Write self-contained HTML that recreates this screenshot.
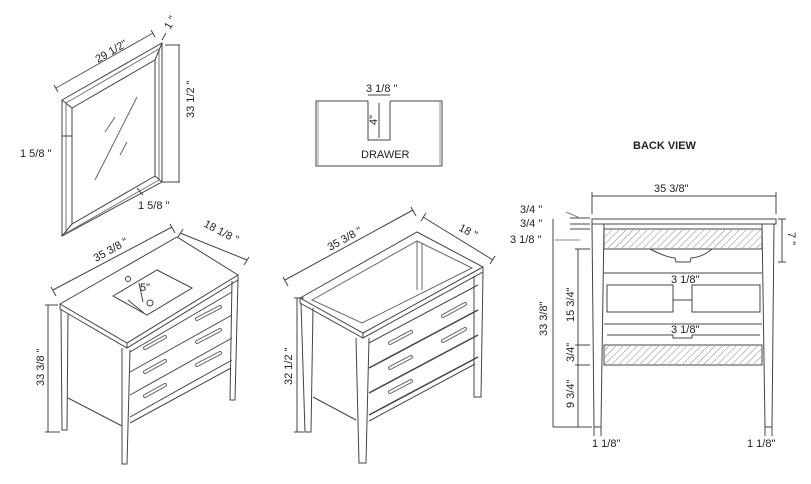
<!DOCTYPE html>
<html><head><meta charset="utf-8"><style>
html,body{margin:0;padding:0;background:#fff;}
svg{display:block;}
text{font-family:"Liberation Sans",sans-serif;fill:#222;font-size:11px;}
</style></head><body>
<svg width="811" height="484" viewBox="0 0 811 484" xmlns="http://www.w3.org/2000/svg">
<g fill="none" stroke="#444" stroke-width="1">
<!-- Mirror -->
<polygon points="62,100 162,43 162,182 62,236"/>
<polygon points="66,103 159,49 159,180 66,233" stroke="#777"/>
<polygon points="72,108 155,60 155,176 72,224"/>
<line x1="62" y1="100" x2="72" y2="108"/><line x1="162" y1="43" x2="155" y2="60"/>
<line x1="162" y1="182" x2="155" y2="176"/><line x1="62" y1="236" x2="72" y2="224"/>
<line x1="95" y1="180" x2="137" y2="97" stroke="#666"/>
<line x1="105" y1="132" x2="115" y2="117" stroke="#666"/>
<line x1="120" y1="155" x2="127" y2="142" stroke="#666"/>
<line x1="56" y1="88" x2="153" y2="33" stroke="#555"/>
<line x1="54" y1="85" x2="58" y2="92"/><line x1="151" y1="30" x2="155" y2="37"/>
<line x1="165" y1="45" x2="180" y2="45"/><line x1="162" y1="182" x2="180" y2="182"/>
<line x1="179" y1="45" x2="179" y2="182"/>
<line x1="162" y1="40" x2="166" y2="33"/>
<line x1="62" y1="136" x2="72" y2="136"/>
<line x1="137" y1="188" x2="143" y2="195"/>
<!-- Drawer -->
<polyline points="368,101 316,101 316,166 442,166 442,101 390,101"/>
<polyline points="368,101 368,140 390,140 390,101"/>
<line x1="368" y1="95" x2="390" y2="95"/><line x1="379" y1="103" x2="379" y2="138"/>
<line x1="318" y1="101" x2="318" y2="166" stroke="#999"/><line x1="440" y1="101" x2="440" y2="166" stroke="#999"/>

<!-- Left vanity -->
<polygon points="60,304 177,237 238,275 127,343"/>
<polyline points="60,304 60,309 127,348 238,280 238,275"/>
<line x1="127" y1="343" x2="127" y2="348"/>
<polygon points="113,296 157,270 192,288 147,315"/>
<path d="M128,300 Q140,310 144,313" />
<circle cx="128" cy="279" r="2.5"/><circle cx="150" cy="303" r="3"/>
<line x1="139" y1="283" x2="143" y2="302"/>
<polyline points="61,309 62,430 67,430 68,314"/>
<polyline points="122,348 122,464 127,464 130,350"/>
<polyline points="232,281 230,400 235,400 238,279"/>
<line x1="68" y1="398" x2="122" y2="426"/>
<line x1="130" y1="423" x2="231" y2="368"/>
<line x1="130" y1="352" x2="232" y2="292"/>
<line x1="130" y1="372" x2="232" y2="315"/>
<line x1="130" y1="395" x2="232" y2="338"/>
<line x1="130" y1="417" x2="232" y2="360"/>
<g stroke-width="4" stroke="#666" stroke-linecap="round">
<line x1="145" y1="348" x2="165" y2="337"/><line x1="197" y1="319" x2="220" y2="307"/>
<line x1="145" y1="372" x2="165" y2="361"/><line x1="197" y1="342" x2="220" y2="330"/>
<line x1="145" y1="396" x2="165" y2="385"/><line x1="197" y1="365" x2="220" y2="353"/>
</g>
<g stroke-width="2" stroke="#fff" stroke-linecap="round">
<line x1="145" y1="348" x2="165" y2="337"/><line x1="197" y1="319" x2="220" y2="307"/>
<line x1="145" y1="372" x2="165" y2="361"/><line x1="197" y1="342" x2="220" y2="330"/>
<line x1="145" y1="396" x2="165" y2="385"/><line x1="197" y1="365" x2="220" y2="353"/>
</g>
<line x1="53" y1="290" x2="172" y2="227"/><line x1="51" y1="287" x2="56" y2="296"/><line x1="170" y1="224" x2="175" y2="233"/>
<line x1="180" y1="233" x2="247" y2="260"/><line x1="178" y1="237" x2="183" y2="229"/><line x1="244" y1="265" x2="249" y2="257"/>
<line x1="48" y1="305" x2="48" y2="432"/><line x1="45" y1="305" x2="58" y2="305"/><line x1="45" y1="432" x2="60" y2="432"/>

<!-- Middle vanity -->
<polygon points="300,298 417,232 483,267 363,333"/>
<polygon points="312,300 417,241 472,268 362,323" stroke="#666"/>
<polyline points="300,298 300,303 363,338 483,272 483,267"/>
<line x1="363" y1="333" x2="363" y2="338"/>
<line x1="417" y1="241" x2="417" y2="290" stroke="#666"/>
<line x1="422" y1="243" x2="422" y2="290" stroke="#666"/>
<polyline points="301,303 305,432 311,432 313,308"/>
<polyline points="356,338 359,463 366,463 369,338"/>
<polyline points="474,276 474,397 481,397 483,272"/>
<line x1="313" y1="397" x2="356" y2="420"/>
<line x1="369" y1="343" x2="478" y2="285"/>
<line x1="369" y1="368" x2="478" y2="310" stroke-width="1.5"/>
<line x1="369" y1="393" x2="478" y2="335" stroke-width="1.5"/>
<line x1="369" y1="415" x2="478" y2="357" stroke-width="1.5"/>
<line x1="369" y1="421" x2="475" y2="364"/>
<g stroke-width="4" stroke="#666" stroke-linecap="round">
<line x1="390" y1="343" x2="411" y2="332"/><line x1="443" y1="316" x2="465" y2="304"/>
<line x1="390" y1="368" x2="411" y2="357"/><line x1="443" y1="341" x2="465" y2="329"/>
<line x1="390" y1="392" x2="411" y2="381"/>
</g>
<g stroke-width="2" stroke="#fff" stroke-linecap="round">
<line x1="390" y1="343" x2="411" y2="332"/><line x1="443" y1="316" x2="465" y2="304"/>
<line x1="390" y1="368" x2="411" y2="357"/><line x1="443" y1="341" x2="465" y2="329"/>
<line x1="390" y1="392" x2="411" y2="381"/>
</g>
<line x1="285" y1="280" x2="413" y2="210"/><line x1="283" y1="277" x2="288" y2="286"/><line x1="411" y1="207" x2="416" y2="216"/>
<line x1="423" y1="217" x2="493" y2="260"/><line x1="421" y1="221" x2="426" y2="213"/><line x1="490" y1="264" x2="495" y2="256"/>
<line x1="297" y1="298" x2="297" y2="432"/><line x1="294" y1="298" x2="304" y2="298"/><line x1="294" y1="432" x2="304" y2="432"/>

<!-- Back view -->
<rect x="592" y="219" width="184" height="5"/>
<line x1="592" y1="196" x2="776" y2="196"/><line x1="592" y1="192" x2="592" y2="214"/><line x1="776" y1="192" x2="776" y2="214"/>
<polyline points="592,224 594,427 601,427 604,224"/>
<polyline points="762,224 765,427 772,427 774,224"/>
<rect x="604" y="229" width="158" height="20"/>
<rect x="604" y="345" width="158" height="20"/>
<path d="M650,249 Q665,257 675,258 L676,262 L690,262 L691,258 Q703,257 712,249"/>
<line x1="604" y1="273" x2="762" y2="273"/>
<line x1="604" y1="324" x2="762" y2="324"/>
<rect x="607" y="285" width="66" height="27"/><rect x="692" y="285" width="68" height="27"/>
<line x1="673" y1="300" x2="692" y2="300"/>
<polyline points="607,335 673,335 673,338 692,338 692,335 760,335"/>
<line x1="553" y1="219" x2="553" y2="427"/>
<line x1="553" y1="427" x2="592" y2="427"/>
<line x1="578" y1="249" x2="578" y2="427"/>
<line x1="575" y1="249" x2="590" y2="249"/><line x1="575" y1="345" x2="590" y2="345"/><line x1="575" y1="365" x2="590" y2="365"/>
<line x1="570" y1="218" x2="590" y2="218"/><line x1="570" y1="224" x2="590" y2="224"/><line x1="570" y1="229" x2="590" y2="229"/>
<line x1="566" y1="212" x2="580" y2="218" stroke="#888"/>
<line x1="555" y1="240" x2="580" y2="240" stroke="#888"/>
<line x1="782" y1="219" x2="782" y2="262"/><line x1="778" y1="219" x2="786" y2="219"/><line x1="778" y1="262" x2="786" y2="262"/>
<line x1="594" y1="427" x2="594" y2="436"/><line x1="601" y1="427" x2="601" y2="436"/>
<line x1="765" y1="427" x2="765" y2="436"/><line x1="772" y1="427" x2="772" y2="436"/>
</g>
<defs><pattern id="h" width="5" height="5" patternUnits="userSpaceOnUse" patternTransform="rotate(45)"><line x1="0" y1="0" x2="0" y2="5" stroke="#888" stroke-width="1"/></pattern></defs>
<rect x="605" y="230" width="156" height="18" fill="url(#h)"/>
<rect x="605" y="346" width="156" height="18" fill="url(#h)"/>

<text x="98" y="63" font-size="12" transform="rotate(-30 98 63)">29 1/2"</text>
<text x="170" y="30" font-size="12" transform="rotate(-60 170 30)">1 "</text>
<text x="194" y="118" font-size="12" transform="rotate(-90 194 118)">33 1/2 "</text>
<text x="20" y="157" font-size="12">1 5/8 "</text>
<text x="138" y="209" font-size="12">1 5/8 "</text>
<text x="366" y="92" font-size="11">3 1/8 "</text>
<text x="377" y="125" font-size="8" transform="rotate(-90 377 125)">4"</text>
<text x="361" y="158" font-size="11">DRAWER</text>
<text x="633" y="149" font-size="13" style="font-weight:bold">BACK VIEW</text>
<text x="96" y="262" font-size="12" transform="rotate(-29 96 262)">35 3/8 "</text>
<text x="203" y="226" font-size="12" transform="rotate(28 203 226)">18 1/8 "</text>
<text x="44" y="386" font-size="12" transform="rotate(-90 44 386)">33 3/8 "</text>
<text x="140" y="291" font-size="9">5"</text>
<text x="330" y="251" font-size="12" transform="rotate(-29 330 251)">35 3/8 "</text>
<text x="458" y="230" font-size="12" transform="rotate(28 458 230)">18 "</text>
<text x="292" y="385" font-size="12" transform="rotate(-90 292 385)">32 1/2 "</text>
<text x="654" y="192" font-size="11">35 3/8"</text>
<text x="520" y="213" font-size="10">3/4 "</text>
<text x="520" y="227" font-size="10">3/4 "</text>
<text x="510" y="243" font-size="10">3 1/8 "</text>
<text x="547" y="336" font-size="11" transform="rotate(-90 547 336)">33 3/8"</text>
<text x="574" y="322" font-size="11" transform="rotate(-90 574 322)">15 3/4"</text>
<text x="574" y="362" font-size="11" transform="rotate(-90 574 362)">3/4"</text>
<text x="574" y="408" font-size="11" transform="rotate(-90 574 408)">9 3/4"</text>
<text x="788" y="232" font-size="11" transform="rotate(90 788 232)">7 "</text>
<text x="671" y="283" font-size="11">3 1/8"</text>
<text x="671" y="333" font-size="11">3 1/8"</text>
<text x="592" y="447" font-size="11">1 1/8"</text>
<text x="747" y="447" font-size="11">1 1/8"</text>
</svg>
</body></html>
